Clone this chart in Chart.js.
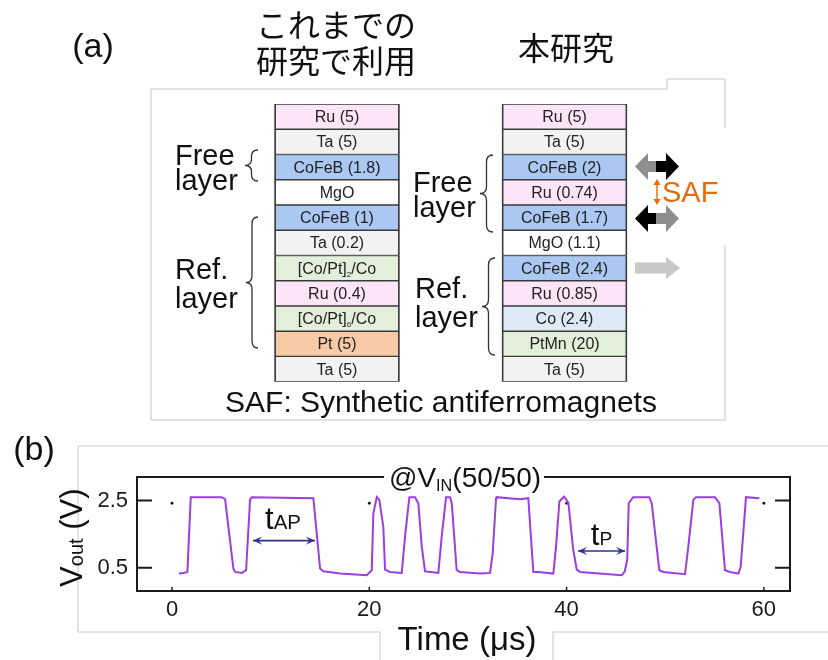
<!DOCTYPE html>
<html>
<head>
<meta charset="utf-8">
<script src="https://cdn.jsdelivr.net/npm/chart.js@4.4.1/dist/chart.umd.min.js"></script>
<style>
html, body { margin: 0; padding: 0; background: #fff; }
#wrap { position: relative; width: 828px; height: 660px; overflow: hidden; }
#wrap canvas { position: absolute; left: 0; top: 0; }
</style>
</head>
<body>
<div id="wrap">
  <canvas id="stack" width="828" height="660"></canvas>
  <canvas id="trace" width="828" height="660"></canvas>
</div>
<script>
// ---- (a) layer stacks, listed top to bottom ----
const stackNames = ['これまでの研究で利用', '本研究'];
const oldLayers = ['Ru (5)', 'Ta (5)', 'CoFeB (1.8)', 'MgO', 'CoFeB (1)', 'Ta (0.2)',
                   '[Co/Pt]_{2}/Co', 'Ru (0.4)', '[Co/Pt]_{6}/Co', 'Pt (5)', 'Ta (5)'];
const newLayers = ['Ru (5)', 'Ta (5)', 'CoFeB (2)', 'Ru (0.74)', 'CoFeB (1.7)', 'MgO (1.1)',
                   'CoFeB (2.4)', 'Ru (0.85)', 'Co (2.4)', 'PtMn (20)', 'Ta (5)'];

// ---- (b) output voltage trace ----
const timeUs = [0.7, 1.15, 1.56, 1.9, 5.04, 5.38, 6.22, 6.39, 7.07, 7.51, 7.91, 8.08,
                14.33, 15.01, 15.34, 17.04, 19.74, 20.25, 20.41, 20.76, 21.02, 21.42, 21.6, 22.1,
                23.29, 23.62, 24.06, 24.64, 24.97, 25.32, 25.65, 27.0, 27.34, 27.78, 28.19, 28.36,
                28.86, 29.2, 31.23, 32.24, 32.51, 32.85, 32.92, 35.28, 36.12, 36.63, 37.14, 38.66,
                38.93, 39.27, 39.74, 40.18, 40.68, 41.03, 41.36, 45.6, 45.9, 46.15, 46.3, 46.75,
                48.39, 48.63, 49.4, 49.81, 52.01, 52.34, 52.85, 53.12, 55.05, 55.49, 56.06, 56.57,
                57.41, 57.65, 58.19, 59.54];
const voutV = [0.33, 0.35, 0.38, 2.6, 2.6, 2.54, 0.48, 0.38, 0.35, 0.43, 2.52, 2.6,
               2.57, 0.48, 0.4, 0.33, 0.28, 0.43, 2.12, 2.6, 2.52, 1.72, 0.45, 0.38,
               0.35, 1.43, 2.6, 2.6, 2.42, 1.13, 0.4, 0.35, 1.43, 2.6, 2.6, 2.42,
               0.43, 0.38, 0.33, 0.35, 0.93, 2.57, 2.6, 2.54, 2.57, 0.38, 0.38, 0.33,
               1.13, 2.47, 2.62, 2.44, 1.03, 0.45, 0.38, 0.28, 0.4, 0.75, 2.42, 2.6,
               2.6, 2.42, 0.43, 0.38, 0.31, 1.13, 2.52, 2.6, 2.6, 2.42, 0.43, 0.38,
               0.33, 0.53, 2.6, 2.57];
const xTicks = [0, 20, 40, 60];
const yTicks = [0.5, 2.5];
const markX = [0, 20, 40, 60];
const markY = [2.42, 2.42, 2.42, 2.42];
const tapSpan = [8.22, 14.48];
const tpSpan = [41.16, 45.93];

const layerColors = {
  'Ru': '#fce4f9', 'Ta': '#f2f2f2', 'CoFeB': '#abc8f2', 'MgO': '#ffffff',
  '[Co/Pt]': '#e3efda', 'Pt': '#f8cba6', 'Co': '#deebf7', 'PtMn': '#e2efd9'
};
function colorOf(name) {
  if (name.startsWith('[')) return layerColors['[Co/Pt]'];
  return layerColors[name.split(' ')[0]];
}

const SANS = '"Liberation Sans", Arial, sans-serif';

// text with _{...} subscripts, y = baseline
function rich(ctx, str, x, y, size, opt) {
  opt = opt || {};
  const family = opt.family || SANS;
  const subScale = opt.subScale || 0.6;
  const drop = opt.drop || 0;
  const parts = [];
  str.split(/(_\{[^}]*\})/).forEach(p => {
    if (!p) return;
    if (p.startsWith('_{')) parts.push({ t: p.slice(2, -1), sub: true });
    else parts.push({ t: p, sub: false });
  });
  let w = 0;
  parts.forEach(p => {
    ctx.font = (p.sub ? size * subScale : size) + 'px ' + family;
    p.w = ctx.measureText(p.t).width;
    w += p.w;
  });
  let cx = x;
  if (opt.align === 'center') cx = x - w / 2;
  else if (opt.align === 'right') cx = x - w;
  ctx.textAlign = 'left';
  ctx.textBaseline = 'alphabetic';
  ctx.fillStyle = opt.color || '#111';
  parts.forEach(p => {
    ctx.font = (p.sub ? size * subScale : size) + 'px ' + family;
    ctx.fillText(p.t, cx, p.sub ? y + drop : y);
    cx += p.w;
  });
  return w;
}

function brace(ctx, xTip, xEnd, yTop, yBot) {
  const yMid = (yTop + yBot) / 2, xm = (xTip + xEnd) / 2;
  const r = Math.min(7, (yBot - yTop) / 5);
  ctx.beginPath();
  ctx.moveTo(xEnd, yTop);
  ctx.quadraticCurveTo(xm, yTop, xm, yTop + r);
  ctx.lineTo(xm, yMid - r);
  ctx.quadraticCurveTo(xm, yMid, xTip, yMid);
  ctx.quadraticCurveTo(xm, yMid, xm, yMid + r);
  ctx.lineTo(xm, yBot - r);
  ctx.quadraticCurveTo(xm, yBot, xEnd, yBot);
  ctx.stroke();
}

function blockArrow(ctx, xBase, xTip, yc, headLen, headH, shaftH, color) {
  const d = Math.sign(xTip - xBase);
  const xh = xTip - d * headLen;
  ctx.beginPath();
  ctx.moveTo(xBase, yc - shaftH / 2);
  ctx.lineTo(xh, yc - shaftH / 2);
  ctx.lineTo(xh, yc - headH / 2);
  ctx.lineTo(xTip, yc);
  ctx.lineTo(xh, yc + headH / 2);
  ctx.lineTo(xh, yc + shaftH / 2);
  ctx.lineTo(xBase, yc + shaftH / 2);
  ctx.closePath();
  ctx.fillStyle = color;
  ctx.fill();
}

function lineArrow(ctx, x1, y1, x2, y2, head, color) {
  ctx.strokeStyle = color;
  ctx.fillStyle = color;
  ctx.lineWidth = 1.6;
  ctx.beginPath(); ctx.moveTo(x1, y1); ctx.lineTo(x2, y2); ctx.stroke();
  const ang = Math.atan2(y2 - y1, x2 - x1);
  [[x2, y2, ang], [x1, y1, ang + Math.PI]].forEach(([x, y, a]) => {
    ctx.beginPath();
    ctx.moveTo(x, y);
    ctx.lineTo(x - head * Math.cos(a) + head * 0.45 * Math.sin(a), y - head * Math.sin(a) - head * 0.45 * Math.cos(a));
    ctx.lineTo(x - head * 0.6 * Math.cos(a), y - head * 0.6 * Math.sin(a));
    ctx.lineTo(x - head * Math.cos(a) - head * 0.45 * Math.sin(a), y - head * Math.sin(a) + head * 0.45 * Math.cos(a));
    ctx.closePath();
    ctx.fill();
  });
}

// ---------- chart (a): stacked layers ----------
const stackDatasets = [];
for (let i = oldLayers.length - 1; i >= 0; i--) {
  stackDatasets.push({
    data: [1, 1],
    names: [oldLayers[i], newLayers[i]],
    backgroundColor: [colorOf(oldLayers[i]), colorOf(newLayers[i])],
    borderColor: '#3a3a3a',
    borderWidth: { top: 1, bottom: 1, left: 1.8, right: 1.8 },
    borderSkipped: false,
    barThickness: 125
  });
}

const stackDeco = {
  id: 'stackDeco',
  beforeDraw(chart) {
    const ctx = chart.ctx;
    ctx.save();
    ctx.strokeStyle = '#c4c4c4';
    ctx.lineWidth = 1;
    ctx.beginPath();
    ctx.moveTo(725, 128); ctx.lineTo(725, 79); ctx.lineTo(667, 79); ctx.lineTo(667, 89);
    ctx.lineTo(151, 89); ctx.lineTo(151, 420); ctx.lineTo(725, 420); ctx.lineTo(725, 245);
    ctx.stroke();
    ctx.restore();
  },
  afterDatasetsDraw(chart) {
    const ctx = chart.ctx;
    ctx.save();
    chart.data.datasets.forEach((ds, di) => {
      chart.getDatasetMeta(di).data.forEach((bar, j) => {
        const yMid = (bar.y + bar.base) / 2;
        rich(ctx, ds.names[j], bar.x, yMid + 5.5, 16, { align: 'center', color: '#222', subScale: 0.5, drop: 3 });
      });
    });
    ctx.restore();
  },
  afterDraw(chart) {
    const ctx = chart.ctx;
    ctx.save();
    // headings
    ctx.fillStyle = '#111';
    ctx.textAlign = 'center';
    ctx.textBaseline = 'middle';
    ctx.font = '32px "Noto Sans CJK JP"';
    ctx.fillText('これまでの', 336, 25);
    ctx.fillText('研究で利用', 336, 61);
    ctx.fillText('本研究', 566, 48);
    ctx.font = '34px ' + SANS;
    ctx.fillText('(a)', 93, 48);

    // side labels
    ctx.textAlign = 'left';
    ctx.textBaseline = 'alphabetic';
    ctx.font = '29px ' + SANS;
    ctx.fillText('Free', 175, 165);
    ctx.fillText('layer', 175, 190);
    ctx.fillText('Ref.', 175, 279);
    ctx.fillText('layer', 175, 308);
    ctx.fillText('Free', 413, 192);
    ctx.fillText('layer', 413, 217);
    ctx.fillText('Ref.', 415, 298);
    ctx.fillText('layer', 415, 327);

    ctx.strokeStyle = '#333';
    ctx.lineWidth = 1.3;
    brace(ctx, 245, 258, 150, 181);
    brace(ctx, 246, 258, 217, 348);
    brace(ctx, 480, 493, 155, 232);
    brace(ctx, 482, 495, 258, 355);

    // magnetisation arrows
    blockArrow(ctx, 657, 635, 166.5, 13, 27, 11, '#8e8e8e');
    blockArrow(ctx, 656, 679, 166.5, 13, 27, 11, '#000');
    blockArrow(ctx, 657, 635, 218.5, 13, 27, 11, '#000');
    blockArrow(ctx, 656, 679, 218.5, 13, 27, 11, '#8e8e8e');
    blockArrow(ctx, 635, 680, 268, 14, 22, 11, '#c8c8c8');

    // SAF coupling mark
    ctx.strokeStyle = '#e46c0a';
    ctx.fillStyle = '#e46c0a';
    ctx.lineWidth = 1.4;
    ctx.beginPath(); ctx.moveTo(657, 182); ctx.lineTo(657, 202); ctx.stroke();
    ctx.beginPath(); ctx.moveTo(657, 179); ctx.lineTo(653.5, 185); ctx.lineTo(660.5, 185); ctx.closePath(); ctx.fill();
    ctx.beginPath(); ctx.moveTo(657, 205); ctx.lineTo(653.5, 199); ctx.lineTo(660.5, 199); ctx.closePath(); ctx.fill();
    ctx.font = '29px ' + SANS;
    ctx.fillText('SAF', 662, 202);

    ctx.fillStyle = '#111';
    ctx.textAlign = 'center';
    ctx.font = '30px ' + SANS;
    ctx.fillText('SAF: Synthetic antiferromagnets', 441, 412);
    ctx.restore();
  }
};

new Chart(document.getElementById('stack'), {
  type: 'bar',
  data: { labels: stackNames, datasets: stackDatasets },
  options: {
    responsive: false,
    animation: false,
    layout: { padding: { left: 223.25, right: 149.75, top: 104, bottom: 278.3 } },
    plugins: { legend: { display: false }, tooltip: { enabled: false } },
    scales: {
      x: { stacked: true, display: false },
      y: { stacked: true, display: false, min: 0, max: oldLayers.length }
    }
  },
  plugins: [stackDeco]
});

// ---------- chart (b): Vout vs time ----------
const traceDeco = {
  id: 'traceDeco',
  beforeDraw(chart) {
    const ctx = chart.ctx;
    ctx.save();
    ctx.strokeStyle = '#c8c8c8';
    ctx.lineWidth = 1;
    ctx.beginPath();
    ctx.moveTo(828, 446); ctx.lineTo(78, 446); ctx.lineTo(78, 632); ctx.lineTo(380, 632); ctx.lineTo(380, 660);
    ctx.moveTo(553, 660); ctx.lineTo(553, 632); ctx.lineTo(828, 632);
    ctx.stroke();
    ctx.restore();
  },
  afterDraw(chart) {
    const ctx = chart.ctx, a = chart.chartArea;
    const xs = chart.scales.x, ys = chart.scales.y;
    ctx.save();

    // title sitting on the top border
    const titleX = 465;
    ctx.font = '28px ' + SANS;
    const tw = rich(ctx, '@V_{IN}(50/50)', titleX, a.top + 10, 28, { align: 'center', subScale: 0.58, drop: 4 });

    ctx.strokeStyle = '#1a1a1a';
    ctx.lineWidth = 2;
    ctx.beginPath();
    ctx.moveTo(titleX - tw / 2 - 5, a.top);
    ctx.lineTo(a.left, a.top); ctx.lineTo(a.left, a.bottom);
    ctx.lineTo(a.right, a.bottom); ctx.lineTo(a.right, a.top);
    ctx.lineTo(titleX + tw / 2 + 3, a.top);
    ctx.stroke();

    // inward ticks
    yTicks.forEach(v => {
      const py = ys.getPixelForValue(v);
      ctx.beginPath();
      ctx.moveTo(a.left, py); ctx.lineTo(a.left + 15, py);
      ctx.moveTo(a.right - 15, py); ctx.lineTo(a.right, py);
      ctx.stroke();
    });
    ctx.lineWidth = 1.5;
    xTicks.forEach(v => {
      const px = xs.getPixelForValue(v);
      ctx.beginPath(); ctx.moveTo(px, a.bottom); ctx.lineTo(px, a.bottom - 4); ctx.stroke();
    });

    // t_AP and t_P spans
    const blue = '#2e3192';
    const yAp = ys.getPixelForValue(1.31), yP = ys.getPixelForValue(1.0);
    const ap1 = xs.getPixelForValue(tapSpan[0]), ap2 = xs.getPixelForValue(tapSpan[1]);
    const p1 = xs.getPixelForValue(tpSpan[0]), p2 = xs.getPixelForValue(tpSpan[1]);
    lineArrow(ctx, ap1, yAp, ap2, yAp, 9, blue);
    lineArrow(ctx, p1, yP, p2, yP, 9, blue);
    rich(ctx, 't_{AP}', (ap1 + ap2) / 2 - 1, yAp - 12, 31, { align: 'center', subScale: 0.66, color: '#111' });
    rich(ctx, 't_{P}', (p1 + p2) / 2, yP - 6, 31, { align: 'center', subScale: 0.62, color: '#111' });

    // axis titles
    ctx.save();
    ctx.translate(82, 587);
    ctx.rotate(-Math.PI / 2);
    rich(ctx, 'V_{out} (V)', 0, 0, 31, { subScale: 0.65, drop: 1 });
    ctx.restore();
    rich(ctx, 'Time (μs)', 467, 650, 33, { align: 'center' });

    ctx.fillStyle = '#111';
    ctx.font = '34px ' + SANS;
    ctx.textAlign = 'center';
    ctx.textBaseline = 'middle';
    ctx.fillText('(b)', 34, 451);
    ctx.restore();
  }
};

new Chart(document.getElementById('trace'), {
  type: 'scatter',
  data: {
    datasets: [
      {
        data: timeUs.map((t, i) => ({ x: t, y: voutV[i] })),
        showLine: true,
        borderColor: '#9b3fe0',
        borderWidth: 2,
        pointRadius: 0,
        tension: 0
      },
      {
        data: markX.map((t, i) => ({ x: t, y: markY[i] })),
        pointRadius: 1.4,
        backgroundColor: '#111',
        borderWidth: 0
      }
    ]
  },
  options: {
    responsive: false,
    animation: false,
    layout: { padding: { left: 0, right: 38, top: 477, bottom: 0 } },
    plugins: { legend: { display: false }, tooltip: { enabled: false } },
    scales: {
      x: {
        type: 'linear', min: -3.55, max: 62.65,
        grid: { display: false, drawTicks: false },
        border: { display: false },
        afterBuildTicks: s => { s.ticks = xTicks.map(v => ({ value: v })); },
        afterFit: s => { s.height = 69; },
        ticks: { font: { family: SANS, size: 22 }, color: '#1a1a1a', padding: 6, maxRotation: 0,
                 callback: v => String(v) }
      },
      y: {
        type: 'linear', min: -0.187, max: 3.199,
        grid: { display: false, drawTicks: false },
        border: { display: false },
        afterBuildTicks: s => { s.ticks = yTicks.map(v => ({ value: v })); },
        afterFit: s => { s.width = 137; },
        ticks: { font: { family: SANS, size: 22 }, color: '#1a1a1a', padding: 9,
                 callback: v => v.toFixed(1) }
      }
    }
  },
  plugins: [traceDeco]
});
</script>
</body>
</html>
